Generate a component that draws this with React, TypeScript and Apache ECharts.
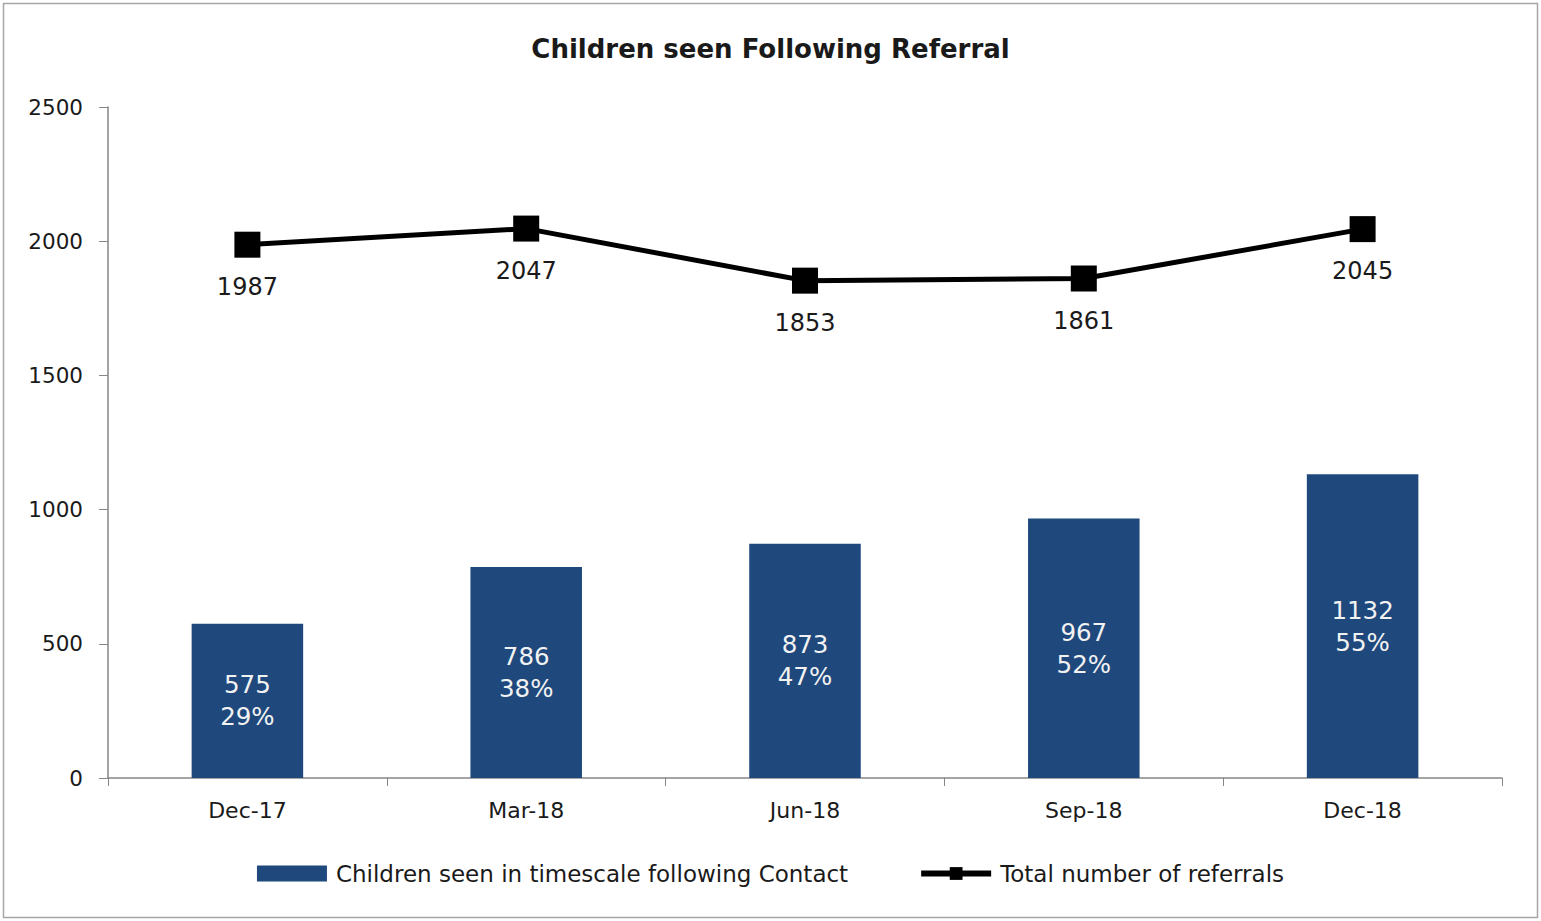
import React, { useEffect, useRef } from "react";
import * as echarts from "echarts";

const categories = ["Dec-17", "Mar-18", "Jun-18", "Sep-18", "Dec-18"];
const childrenSeen = [575, 786, 873, 967, 1132];
const percentages = ["29%", "38%", "47%", "52%", "55%"];
const totalReferrals = [1987, 2047, 1853, 1861, 2045];
const yTicks = { min: 0, max: 2500, interval: 500 };

const FONT = "DejaVu Sans";

export default function App() {
  const ref = useRef<HTMLDivElement>(null);
  useEffect(() => {
    document.body.style.margin = "0";
    const chart = echarts.init(ref.current!, undefined, { renderer: "svg" });
    chart.setOption({
      animation: false,
      backgroundColor: "#ffffff",
      textStyle: { fontFamily: FONT },
      title: {
        text: "Children seen Following Referral",
        left: "center",
        top: 31,
        textStyle: { fontFamily: FONT, fontSize: 26, fontWeight: "bold", color: "#1a1a1a" },
      },
      graphic: [
        {
          type: "rect",
          shape: { x: 3.5, y: 3.5, width: 1534, height: 914 },
          style: { fill: "none", stroke: "#a6a6a6", lineWidth: 1.5 },
          silent: true,
        },
      ],
      legend: {
        bottom: 31,
        left: "center",
        itemWidth: 70,
        itemHeight: 16,
        itemGap: 70,
        textStyle: { fontFamily: FONT, fontSize: 23, color: "#1a1a1a", padding: [0, 0, 0, 4] },
        data: [
          { name: "Children seen in timescale following Contact", icon: "rect" },
          { name: "Total number of referrals", lineStyle: { width: 6 } },
        ],
      },
      grid: { left: 108, right: 39, top: 107, bottom: 143 },
      xAxis: {
        type: "category",
        data: categories,
        boundaryGap: true,
        axisLine: { lineStyle: { color: "#868686", width: 1.5 } },
        axisTick: { show: true, length: 8, alignWithLabel: false, lineStyle: { color: "#868686" } },
        axisLabel: { fontFamily: FONT, fontSize: 22, color: "#1a1a1a", margin: 21 },
      },
      yAxis: {
        type: "value",
        min: yTicks.min,
        max: yTicks.max,
        interval: yTicks.interval,
        axisLine: { show: true, lineStyle: { color: "#868686", width: 1.5 } },
        axisTick: { show: true, length: 9, lineStyle: { color: "#868686" } },
        splitLine: { show: false },
        axisLabel: {
          fontFamily: FONT,
          fontSize: 21.5,
          color: "#1a1a1a",
          margin: 25,
          formatter: (v: number) => String(v),
        },
      },
      series: [
        {
          name: "Children seen in timescale following Contact",
          type: "bar",
          data: childrenSeen,
          barWidth: "40%",
          itemStyle: { color: "#1f497d" },
          label: {
            show: true,
            position: "inside",
            color: "#f2f2f2",
            fontFamily: FONT,
            fontSize: 24.5,
            lineHeight: 32,
            formatter: (p: any) => `${p.value}\n${percentages[p.dataIndex]}`,
          },
        },
        {
          name: "Total number of referrals",
          type: "line",
          data: totalReferrals,
          symbol: "rect",
          symbolSize: 26,
          lineStyle: { color: "#000000", width: 5 },
          itemStyle: { color: "#000000" },
          label: {
            show: true,
            position: "bottom",
            distance: 17,
            color: "#1a1a1a",
            fontFamily: FONT,
            fontSize: 24,
          },
        },
      ],
    });
    return () => chart.dispose();
  }, []);
  return <div ref={ref} style={{ width: 1541, height: 921 }} />;
}
